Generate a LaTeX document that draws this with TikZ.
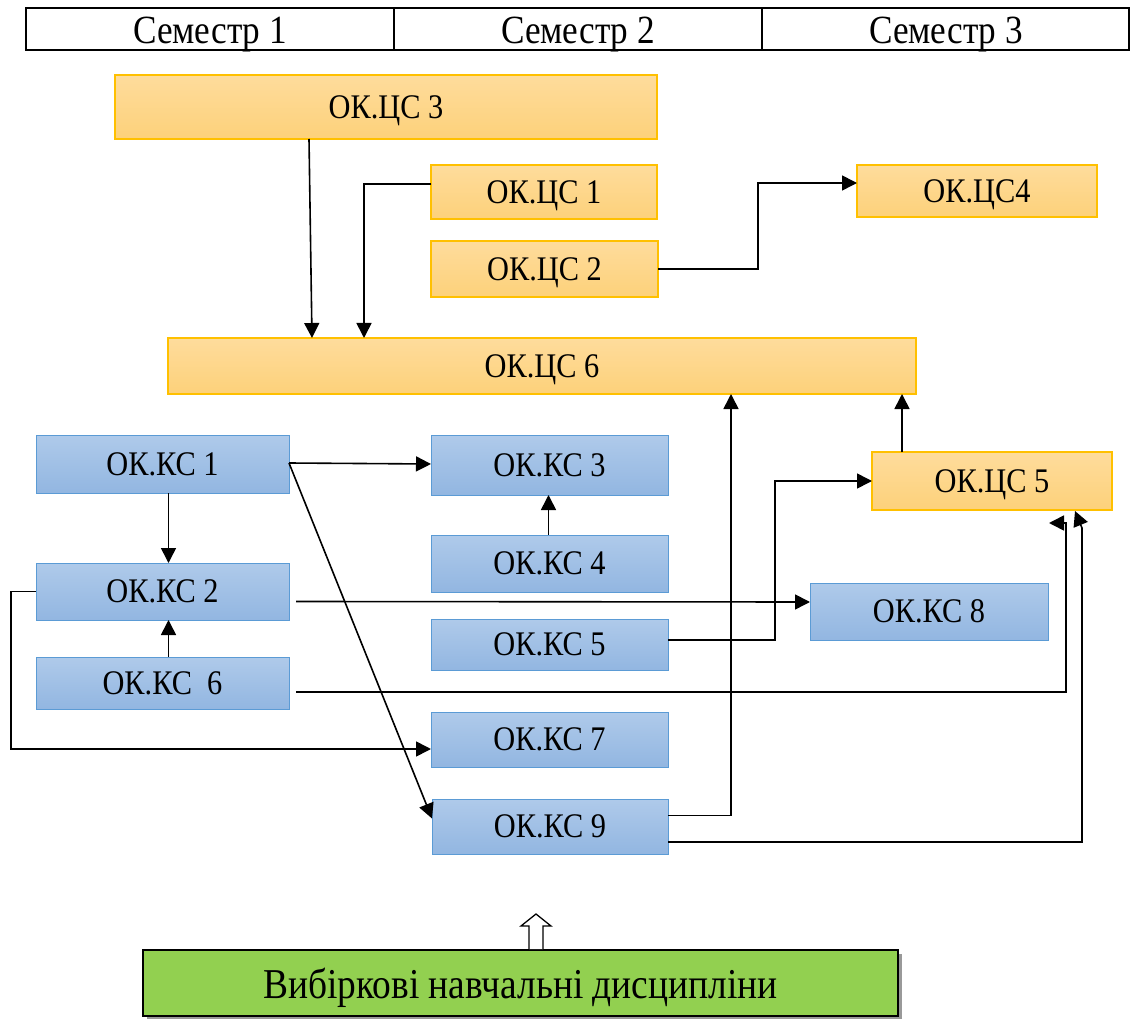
\documentclass[tikz,border=0pt]{standalone}
\usepackage{fontspec}
\setmainfont{Liberation Serif}[FakeStretch=0.88]
\usetikzlibrary{arrows.meta}
\definecolor{orTop}{HTML}{FEDC9C}
\definecolor{orBot}{HTML}{FDD17A}
\definecolor{orLine}{HTML}{FFC000}
\definecolor{blTop}{HTML}{AFCAEA}
\definecolor{blBot}{HTML}{92B6E1}
\definecolor{blLine}{HTML}{5B9BD5}
\definecolor{grFill}{HTML}{92D050}
\tikzset{
  box/.style={rectangle, inner sep=0pt, outer sep=0pt, text depth=0pt, font=\fontsize{34.5}{40}\selectfont},
  obox/.style={box, draw=orLine, line width=1.3pt, top color=orTop, bottom color=orBot},
  bbox/.style={box, draw=blLine, line width=1pt, top color=blTop, bottom color=blBot},
  arr/.style={line width=1.6pt, -{Triangle[length=15pt,width=15pt]}},
  hdr/.style={font=\fontsize{40}{46}\selectfont, inner sep=0pt, text depth=0pt}
}
\begin{document}
\begin{tikzpicture}[x=1pt,y=-1pt]
\useasboundingbox (0,0) rectangle (1136,1019);
% header
\draw[line width=1.4pt] (26,8) rectangle (1129,50);
\draw[line width=1.2pt] (394,8) -- (394,50) (762,8) -- (762,50);
\node[hdr] (s1) at (210,30) {Семестр 1};
\node[hdr] (s2) at (578,30) {Семестр 2};
\node[hdr] (s3) at (946,30) {Семестр 3};
% orange boxes
\node[obox, minimum width=542pt, minimum height=64pt] (c3) at (386,107) {ОК.ЦС 3};
\node[obox, minimum width=226pt, minimum height=54pt] (c1) at (544,192) {ОК.ЦС 1};
\node[obox, minimum width=227pt, minimum height=56pt] (c2) at (544.5,269) {ОК.ЦС 2};
\node[obox, minimum width=240pt, minimum height=52pt] (c4) at (977,191) {ОК.ЦС4};
\node[obox, minimum width=748pt, minimum height=56pt] (c6) at (542,366) {ОК.ЦС 6};
\node[obox, minimum width=240pt, minimum height=58pt] (c5) at (992,481) {ОК.ЦС 5};
% blue boxes
\node[bbox, minimum width=253pt, minimum height=58pt] (k1) at (162.5,464) {ОК.КС 1};
\node[bbox, minimum width=237pt, minimum height=60pt] (k3) at (549.5,465) {ОК.КС 3};
\node[bbox, minimum width=237pt, minimum height=57pt] (k4) at (549.5,563.5) {ОК.КС 4};
\node[bbox, minimum width=253pt, minimum height=57pt] (k2) at (162.5,591.5) {ОК.КС 2};
\node[bbox, minimum width=238pt, minimum height=57pt] (k8) at (929,611.5) {ОК.КС 8};
\node[bbox, minimum width=237pt, minimum height=51pt] (k5) at (549.5,644.5) {ОК.КС 5};
\node[bbox, minimum width=253pt, minimum height=52pt] (k6) at (162.5,683) {ОК.КС\ \ 6};
\node[bbox, minimum width=237pt, minimum height=55pt] (k7) at (549.5,739.5) {ОК.КС 7};
\node[bbox, minimum width=236pt, minimum height=55pt] (k9) at (550,826.5) {ОК.КС 9};
% green box
\fill[black!40] (147,954) rectangle (902,1020);
\node[box, draw=black, line width=2pt, fill=grFill, minimum width=755pt, minimum height=66pt, font=\fontsize{42.5}{48}\selectfont] (g) at (520.5,983) {Вибіркові навчальні дисципліни};
% hollow arrow
\draw[line width=1.3pt, fill=white] (529,949) -- (529,926) -- (521,926) -- (536,914) -- (551,926) -- (543,926) -- (543,949);
% connectors
\draw[arr] ([xshift=-77pt]c3.south) -- ([xshift=-230pt]c6.north);
\draw[arr] ([yshift=8pt]c1.west) -| ([xshift=-178pt]c6.north);
\draw[arr] (c2.east) -- ++(100,0) |- ([yshift=8pt]c4.west);
\draw[arr] ([yshift=11pt]k9.east) -| ([xshift=189pt]c6.south);
\draw[arr] ([xshift=-90pt]c5.north) -- ([xshift=360pt]c6.south);
\draw[arr] ([yshift=1pt]k1.east) -- ([yshift=1pt]k3.west);
\draw[arr] ([yshift=1pt]k1.east) -- ([yshift=8pt]k9.west);
\draw[arr] ([xshift=6pt]k1.south) -- ([xshift=6pt]k2.north);
\draw[arr] ([xshift=-1pt]k4.north) -- ([xshift=-1pt]k3.south);
\draw[arr] ([xshift=6pt]k6.north) -- ([xshift=6pt]k2.south);
\draw[arr] ([xshift=7pt,yshift=-10pt]k2.east) -- ([yshift=9.5pt]k8.west);
\draw[arr] (k2.west) -- ++(-25,0) |- ([yshift=-9.5pt]k7.west);
\draw[arr] ([yshift=4.5pt]k5.east) -- ++(107,0) |- (c5.west);
\coordinate (b1) at (1066,523);
\coordinate (t1) at (1049,523);
\draw[arr] ([xshift=7pt,yshift=-9pt]k6.east) -| (b1) -- (t1);
\coordinate (b2) at (1082,528);
\coordinate (t2) at (1075,511);
\draw[arr] ([yshift=-15.5pt]k9.east) -| (b2) -- (t2);
\end{tikzpicture}
\end{document}
